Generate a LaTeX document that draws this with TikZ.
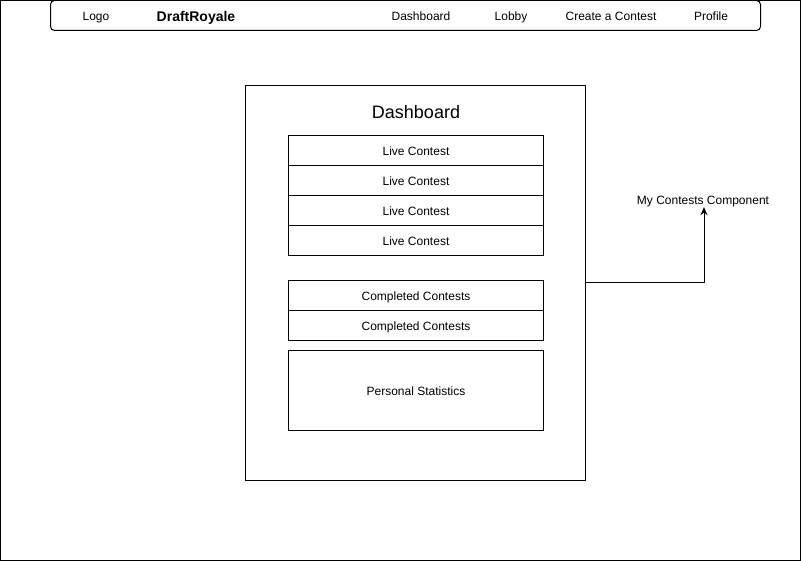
\documentclass[tikz,border=0pt]{standalone}
\usepackage{fontspec}
\setmainfont{Liberation Sans}
\usetikzlibrary{arrows.meta}

\tikzset{
  row/.style={draw, line width=1pt, minimum width=255pt, minimum height=30pt, inner sep=0pt, outer sep=0pt, text height=9pt, text depth=0pt, font=\fontsize{12}{14}\selectfont},
  navitem/.style={text height=9pt, text depth=0pt, font=\fontsize{12}{14}\selectfont}
}

\begin{document}
\begin{tikzpicture}[x=1pt,y=-1pt]
        \useasboundingbox (0,0) rectangle (811,561);
        \draw[line width=1pt] (0.5,0.5) rectangle (800.5,560.5);
        % navigation bar
        \draw[line width=1pt, rounded corners=4pt] (50.5,0.5) rectangle (760.5,30.5);
        \node[navitem] (logo) at (96,16.5) {Logo};
        \node[navitem, font=\fontsize{14}{16}\selectfont\bfseries, text height=10pt] (brand) at (196,16.5) {DraftRoyale};
        \node[navitem] (navdash) at (421,16.5) {Dashboard};
        \node[navitem] (navlobby) at (511,16.5) {Lobby};
        \node[navitem] (navcreate) at (611,16.5) {Create a Contest};
        \node[navitem] (navprofile) at (711,16.5) {Profile};
        % dashboard
        \node[draw, line width=1pt, minimum width=340pt, minimum height=395pt, inner sep=0pt, outer sep=0pt] (dash) at (415.5,283) {};
        \node[font=\fontsize{18}{21}\selectfont] (dashtitle) at (416,112) {Dashboard};
        \node[row, text height=10pt] (live1) at (416,150.5) {Live Contest};
        \node[row, text height=10pt] (live2) at (416,180.5) {Live Contest};
        \node[row, text height=10pt] (live3) at (416,210.5) {Live Contest};
        \node[row, text height=10pt] (live4) at (416,240.5) {Live Contest};
        \node[row, text height=10pt] (done1) at (416,295.5) {Completed Contests};
        \node[row, text height=10pt] (done2) at (416,325.5) {Completed Contests};
        \node[row, minimum height=80pt] (stats) at (416,390.5) {Personal Statistics};
        % component label
        \node[navitem, inner sep=2pt] (mycomp) at (703,200.5) {My Contests Component};
        \draw[line width=1pt, -{Stealth[length=8pt,width=7pt]}] (dash.east) -| ([xshift=1pt]mycomp.south);
    \end{tikzpicture}
\end{document}
